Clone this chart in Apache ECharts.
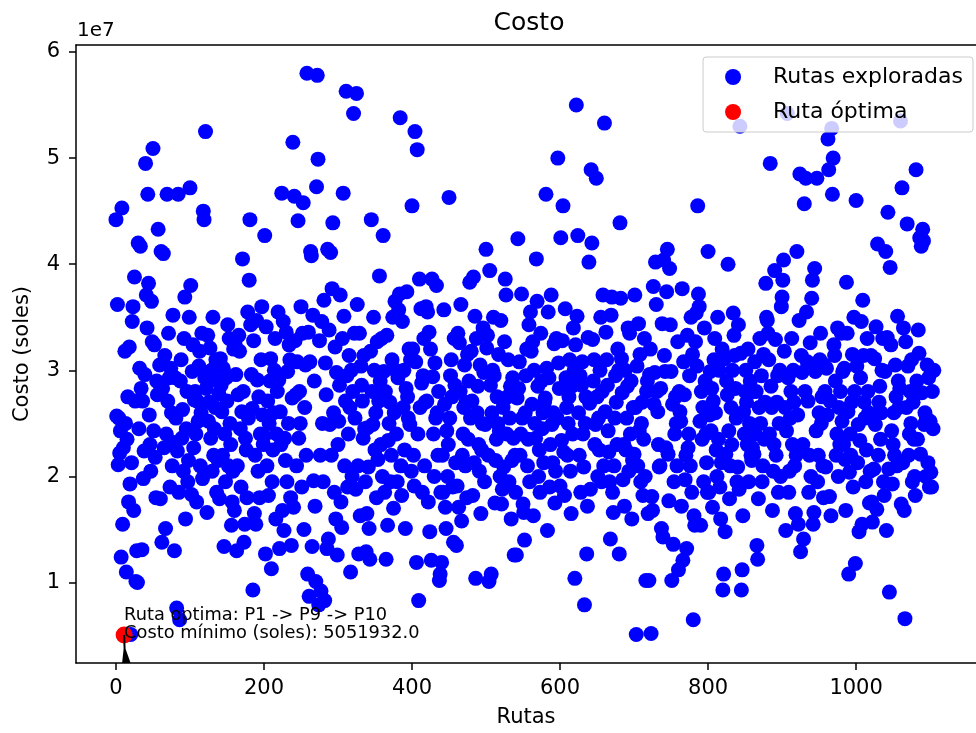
<!DOCTYPE html>
<html><head><meta charset="utf-8">
<script src="https://cdn.jsdelivr.net/npm/echarts@6/dist/echarts.min.js"></script>
<style>html,body{margin:0;padding:0;background:#fff;overflow:hidden}#c{width:976px;height:733px}</style>
</head><body><div id="c"></div>
<script>
// Costo de cada ruta explorada, en millones de soles (x = número de ruta)
const COSTOS_MILLONES = [
44.2,25.7,36.2,21.1,25.5,22.2,24.3,12.4,45.3,15.5,22.7,5.05,31.8,25.0,11.0,23.5,27.5,17.6,32.2,19.3,
5.1,21.3,34.6,36.0,16.8,38.8,27.1,10.1,13.0,10.0,42.0,24.5,30.2,41.7,28.3,13.1,27.1,19.8,22.4,29.6,
49.5,37.1,34.0,46.6,38.2,25.8,23.0,20.5,36.5,32.7,50.9,24.3,32.4,21.8,18.0,29.0,27.7,43.3,28.8,30.5,
17.9,41.2,13.8,28.3,41.0,22.7,31.4,15.1,24.0,46.6,27.1,33.5,29.3,19.0,30.2,26.0,21.0,35.2,23.2,13.0,
29.3,25.5,7.6,22.4,46.6,18.5,6.5,29.0,31.0,23.6,26.3,20.5,33.0,36.9,16.0,24.5,28.0,19.5,21.5,35.0,
47.2,38.0,18.3,29.9,32.4,22.7,27.2,28.0,24.0,17.6,27.1,25.2,30.4,31.8,21.0,26.0,33.5,19.8,45.0,44.2,
29.3,52.5,28.3,16.6,33.3,25.2,27.0,32.1,23.6,30.0,20.5,35.0,22.0,24.5,26.5,31.0,18.5,29.0,21.5,27.8,
17.9,31.1,28.6,26.1,22.0,30.2,13.4,24.0,19.5,29.3,27.1,34.3,21.0,33.0,25.0,23.0,15.4,17.6,20.5,32.0,
16.8,32.4,29.6,13.0,21.0,27.7,33.3,31.8,24.5,19.0,26.1,40.5,28.0,13.8,15.5,23.6,22.5,18.0,35.5,25.5,
38.5,44.2,34.3,29.6,26.4,9.3,32.8,16.5,22.0,15.5,34.7,29.1,20.5,27.5,18.0,24.0,31.0,36.0,25.8,23.0,
23.8,42.7,12.7,34.1,21.0,27.1,18.2,25.0,29.0,31.1,11.3,19.5,22.5,26.0,30.0,33.0,16.0,24.0,28.0,35.5,
29.1,13.2,26.1,23.0,46.7,16.8,34.6,14.9,23.6,21.5,33.6,19.5,29.9,25.0,32.4,31.0,18.0,13.5,27.4,51.5,
17.1,46.4,32.8,27.7,21.0,30.8,44.1,23.6,28.0,25.0,36.0,19.0,33.5,45.8,15.0,26.5,30.5,22.0,58.0,10.8,
33.6,8.7,30.8,41.2,40.8,13.4,35.2,19.6,29.0,17.2,10.1,47.3,57.8,49.9,7.9,32.8,22.0,9.2,34.6,25.0,
19.5,36.6,8.3,30.7,27.7,13.2,41.4,14.1,33.8,24.9,41.1,22.0,37.7,43.9,26.0,18.5,32.2,16.0,29.8,12.6,
23.0,25.2,28.6,37.1,17.6,15.2,33.0,46.7,35.1,21.0,27.1,56.3,29.5,19.0,24.0,31.4,26.5,11.0,30.0,20.0,
28.0,54.2,33.5,25.5,18.8,56.1,36.2,21.0,12.7,33.5,16.3,30.4,28.6,27.1,23.6,31.4,24.5,19.5,12.9,16.5,
24.6,20.9,15.1,12.2,31.8,44.2,28.0,24.9,35.0,30.0,22.5,26.0,18.0,32.7,21.6,27.1,38.9,29.0,23.0,33.0,
20.0,42.7,29.9,18.5,28.0,12.2,33.3,15.4,23.4,25.0,27.0,19.5,22.0,31.0,35.0,17.0,26.0,36.5,30.0,24.0,
19.5,29.3,35.7,37.2,53.8,21.0,18.2,34.6,26.5,30.0,22.5,15.1,28.3,37.4,27.5,25.5,32.0,24.9,31.0,20.5,
45.5,32.0,22.0,19.1,52.5,30.8,11.9,50.8,24.0,8.3,38.6,26.5,35.8,28.8,18.5,29.5,33.0,21.0,27.0,36.0,
27.1,35.5,17.6,33.6,14.8,32.0,12.1,38.6,29.4,24.0,20.0,30.7,25.5,38.0,26.0,22.0,28.0,10.2,10.8,18.5,
11.9,22.0,18.5,35.7,26.8,17.1,15.1,24.3,20.0,23.0,46.3,25.5,29.5,31.0,27.5,19.0,13.8,33.0,28.6,21.3,
13.5,19.1,33.5,17.1,32.6,28.0,36.2,15.8,22.0,24.0,26.5,30.5,21.0,27.0,18.0,31.5,23.5,29.0,38.3,25.5,
31.8,27.1,18.2,38.8,21.3,35.1,10.4,33.0,26.0,28.5,23.0,20.5,30.5,16.5,22.5,25.0,34.0,29.8,19.5,24.9,
41.4,32.1,33.3,22.0,10.1,39.4,28.6,10.8,26.0,30.0,35.0,29.5,17.5,21.5,23.5,27.5,25.0,31.5,24.3,20.0,
34.7,17.4,18.8,26.5,20.9,32.7,38.6,37.1,24.0,27.5,31.0,19.5,25.5,28.5,16.0,21.5,29.3,23.6,12.6,22.0,
18.5,12.6,27.4,42.4,28.3,30.8,22.0,24.0,37.2,25.5,17.4,16.6,14.0,26.0,29.5,32.0,21.0,23.5,34.3,19.5,
35.5,31.8,26.8,32.7,16.3,30.0,25.0,23.6,40.5,36.5,28.5,20.0,22.5,18.5,33.5,29.0,24.5,26.0,21.3,27.0,
27.4,46.6,30.2,14.9,35.5,29.3,19.0,23.0,37.1,24.9,21.3,26.0,32.5,17.5,20.5,33.0,25.5,50.0,30.7,28.3,
19.1,42.5,23.4,32.8,45.5,22.3,18.2,35.8,29.3,26.5,22.0,25.0,27.5,31.0,20.5,16.5,28.5,24.0,34.0,30.0,
10.4,32.4,55.0,35.1,42.7,26.0,22.0,29.5,18.5,28.6,30.8,24.0,20.9,7.9,25.0,27.5,12.7,17.2,33.1,40.2,
26.9,18.8,48.9,42.0,32.9,29.0,31.0,23.0,24.9,48.1,27.5,20.0,25.5,22.5,30.0,35.0,19.5,28.0,37.1,21.0,
53.3,26.1,33.6,31.0,28.6,24.3,22.3,19.5,14.1,35.2,36.9,18.5,16.6,21.0,25.5,29.5,27.0,23.0,32.0,30.0,
12.7,43.9,36.8,31.1,27.9,19.7,23.0,17.2,30.0,22.5,25.5,28.5,34.0,20.5,33.5,24.0,29.0,16.0,21.5,26.5,
22.1,37.1,26.5,5.1,30.4,21.0,34.4,24.3,31.5,19.5,25.0,27.0,18.2,23.5,33.0,20.0,10.2,28.0,29.0,16.5,
10.2,29.6,32.0,5.2,18.1,16.8,37.9,26.8,29.8,40.2,36.2,28.0,26.1,23.0,20.9,21.0,28.3,15.1,34.4,14.3,
40.4,31.4,29.9,22.7,37.4,41.4,22.1,17.7,39.6,34.3,29.9,10.2,26.8,13.6,19.5,24.0,27.5,25.0,21.0,32.7,
11.2,28.0,26.1,25.2,17.2,37.7,12.1,30.8,27.7,19.7,22.0,13.2,33.3,22.7,24.0,29.5,21.0,35.0,18.5,31.5,
6.5,16.3,15.4,32.7,35.4,30.4,45.5,37.2,36.0,25.2,15.4,28.0,23.5,26.5,19.5,34.0,29.0,24.0,21.3,18.5,
41.2,18.5,25.8,29.9,24.3,28.3,17.1,27.1,31.0,33.0,26.0,22.5,20.0,35.0,23.5,30.0,19.0,16.0,21.3,32.0,
9.3,10.8,31.1,14.8,22.1,29.0,27.7,40.0,24.3,17.9,21.0,26.5,23.0,30.0,35.4,33.3,31.4,28.3,25.5,19.5,
20.9,34.3,18.8,53.0,31.6,9.3,11.2,16.3,26.1,24.0,28.0,30.0,27.0,23.0,32.0,19.5,25.0,29.0,22.0,21.5,
22.7,28.0,22.1,30.8,24.0,28.0,13.5,12.2,17.9,26.5,33.0,25.0,29.5,19.5,21.0,31.5,23.5,27.0,38.2,35.0,
34.7,33.5,31.0,24.0,49.5,28.5,26.5,16.8,20.5,23.0,39.4,32.9,22.0,27.0,29.5,18.5,25.0,30.0,20.0,36.0,
36.9,38.5,40.4,31.8,26.5,14.9,24.3,54.2,29.3,18.5,20.5,25.5,28.0,33.0,23.0,30.0,27.0,21.0,16.5,22.0,
41.2,25.8,15.5,34.7,48.5,12.9,31.4,29.8,23.0,14.1,45.7,28.0,48.1,35.5,30.8,27.1,18.5,22.0,32.6,20.0,
36.8,38.5,15.5,16.6,39.6,29.9,24.3,48.1,19.5,22.0,26.0,31.0,33.5,25.0,27.5,21.0,18.0,30.5,28.0,20.9,
30.2,25.8,51.8,48.9,18.1,27.1,16.3,52.8,46.6,50.0,32.4,31.4,29.0,22.0,24.0,34.0,20.0,26.5,23.0,28.0,
33.5,25.2,29.9,23.0,30.2,21.6,16.8,38.3,33.5,26.1,10.8,20.4,24.0,22.0,27.0,31.5,19.0,35.0,28.0,11.8,
46.0,30.4,21.3,24.9,14.8,23.4,29.3,34.6,15.5,36.6,31.4,27.0,25.5,19.5,22.5,33.0,28.0,26.0,17.5,20.5,
31.4,17.6,15.7,25.8,20.7,31.1,24.9,34.1,16.9,41.9,22.0,27.0,28.5,23.5,26.0,30.0,33.0,19.5,18.2,29.9,
41.2,14.9,33.1,44.9,20.7,9.1,39.7,32.4,24.3,19.3,23.0,26.0,22.0,30.5,27.5,21.0,35.1,29.0,26.5,28.3,
53.5,17.4,47.2,21.3,34.0,16.8,6.6,32.7,26.5,43.8,30.4,22.0,24.0,28.0,25.0,31.0,19.5,27.0,23.5,20.0,
18.2,48.9,29.0,23.5,33.8,31.6,42.5,22.1,41.7,27.9,43.3,42.2,24.9,26.0,20.0,25.5,30.5,21.3,29.3,19.0,
25.2,20.4,19.0,28.0,24.5,30.0
];
const X_TICKS = [0, 200, 400, 600, 800, 1000];
const Y_TICKS = [1e7, 2e7, 3e7, 4e7, 5e7, 6e7];
const RUTA_OPTIMA = ['P1', 'P9', 'P10'];
const INDICE_OPTIMO = 11;
const COSTO_OPTIMO = 5051932.0;

const FONT = '"DejaVu Sans", sans-serif';
const dataExploradas = COSTOS_MILLONES.map((v, i) => [i, v * 1e6]);
const textoAnotacion = 'Ruta optima: ' + RUTA_OPTIMA.join(' -> ') +
  '\nCosto mínimo (soles): ' + COSTO_OPTIMO.toFixed(1);

const axisLineStyle = { color: '#000', width: 1.5 };
const chart = echarts.init(document.getElementById('c'), null, { renderer: 'canvas' });
chart.setOption({
  animation: false,
  backgroundColor: '#fff',
  title: {
    text: 'Costo', left: 524, top: 6, textAlign: 'center',
    textStyle: { fontSize: 25, fontWeight: 'normal', color: '#000', fontFamily: FONT }
  },
  graphic: [{
    type: 'text', left: 77, top: 21,
    style: { text: '1e7', fontSize: 20, fill: '#000', fontFamily: FONT }
  }],
  legend: {
    data: ['Rutas exploradas', 'Ruta óptima'],
    orient: 'vertical', right: 3, top: 57,
    backgroundColor: 'rgba(255,255,255,0.8)',
    borderColor: '#cccccc', borderWidth: 1, borderRadius: 3,
    padding: [9, 10, 9, 22], itemGap: 13, itemWidth: 16, itemHeight: 16,
    icon: 'circle',
    formatter: '{a|{name}}',
    textStyle: {
      color: '#000', fontSize: 22, fontFamily: FONT,
      rich: { a: { padding: [0, 0, 0, 27], fontSize: 22, lineHeight: 22, fontFamily: FONT, color: '#000' } }
    }
  },
  grid: { left: 76, top: 45, right: -9, bottom: 66, containLabel: false },
  xAxis: [{
    type: 'value', min: -54, max: 1162, position: 'bottom',
    axisLine: { show: true, onZero: false, lineStyle: axisLineStyle },
    axisTick: { show: true, inside: false, length: 7, lineStyle: axisLineStyle, customValues: X_TICKS },
    axisLabel: { customValues: X_TICKS, margin: 15, fontSize: 21, color: '#000', fontFamily: FONT,
                 formatter: v => String(Math.round(v)) },
    splitLine: { show: false },
    name: 'Rutas', nameLocation: 'middle', nameGap: 44,
    nameTextStyle: { fontSize: 21, color: '#000', fontFamily: FONT }
  }, {
    type: 'value', min: -54, max: 1162, position: 'top',
    axisLine: { show: true, onZero: false, lineStyle: axisLineStyle },
    axisTick: { show: false }, axisLabel: { show: false }, splitLine: { show: false }
  }],
  yAxis: [{
    type: 'value', min: 2.42e6, max: 6.066e7,
    axisLine: { show: true, onZero: false, lineStyle: axisLineStyle },
    axisTick: { show: true, inside: false, length: 7, lineStyle: axisLineStyle, customValues: Y_TICKS },
    axisLabel: {
      customValues: Y_TICKS, margin: 16, fontSize: 21, color: '#000', fontFamily: FONT,
      formatter: v => String(Math.round(v / 1e7))
    },
    splitLine: { show: false },
    name: 'Costo (soles)', nameLocation: 'middle', nameGap: 43,
    nameTextStyle: { fontSize: 21, color: '#000', fontFamily: FONT }
  }],
  series: [{
    name: 'Rutas exploradas', type: 'scatter', xAxisIndex: 0, yAxisIndex: 0,
    data: dataExploradas, symbol: 'circle', symbolSize: 15,
    itemStyle: { color: '#0000ff', opacity: 1 }, z: 2, silent: true
  }, {
    name: 'Ruta óptima', type: 'scatter', xAxisIndex: 0, yAxisIndex: 0,
    data: [[INDICE_OPTIMO, COSTO_OPTIMO]], symbol: 'circle', symbolSize: 17,
    itemStyle: { color: '#ff0000', opacity: 1 }, z: 3, silent: true
  }, {
    name: 'anotacion', type: 'custom', xAxisIndex: 0, yAxisIndex: 0, z: 5, silent: true,
    data: [[INDICE_OPTIMO, COSTO_OPTIMO]],
    renderItem: (params, api) => {
      const p = api.coord([api.value(0), api.value(1)]);
      const bottom = params.coordSys.y + params.coordSys.height;
      const h = bottom - p[1];
      return {
        type: 'group', children: [{
          type: 'polygon',
          shape: { points: [[p[0] - 1, p[1]], [p[0] + 1, p[1]], [p[0] + 1.5, p[1] + h * 0.5],
                            [p[0] + 6.5, bottom], [p[0] - 2, bottom], [p[0] - 0.5, p[1] + h * 0.5]] },
          style: { fill: '#000' }
        }, {
          type: 'text', x: p[0], y: p[1] + 7,
          style: { text: textoAnotacion, fill: '#000', fontSize: 17.8, fontFamily: FONT,
                   align: 'left', verticalAlign: 'bottom', lineHeight: 18 }
        }]
      };
    }
  }]
});
</script></body></html>
